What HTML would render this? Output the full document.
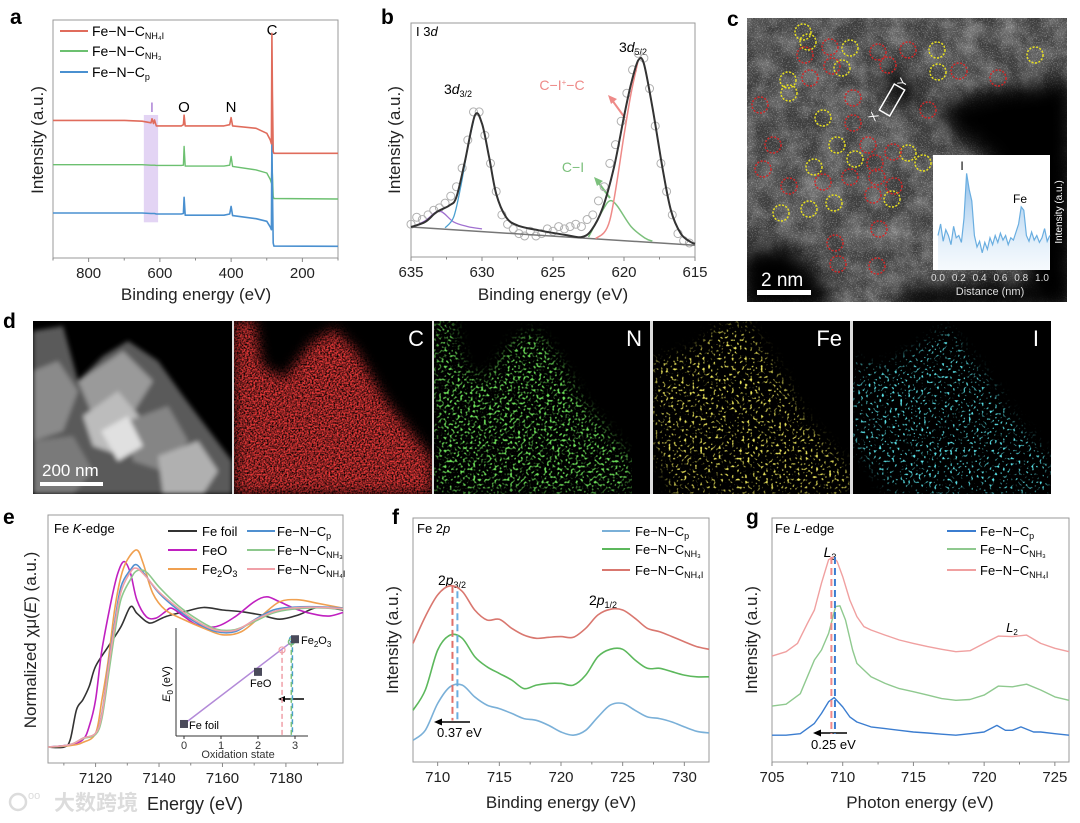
<!DOCTYPE html>
<html><head><meta charset="utf-8"><style>
html,body{margin:0;padding:0;background:#fff;}
svg{display:block;font-family:"Liberation Sans","Noto Sans CJK SC",sans-serif;}
</style></head><body>
<svg id="fig" width="1080" height="823" viewBox="0 0 1080 823" xmlns="http://www.w3.org/2000/svg">
<defs>
<filter id="blur2"><feGaussianBlur stdDeviation="2.5"/></filter>
<filter id="blur6"><feGaussianBlur stdDeviation="6"/></filter>
<filter id="blur10"><feGaussianBlur stdDeviation="10"/></filter>
<filter id="texC" x="0" y="0" width="1" height="1"><feTurbulence type="fractalNoise" baseFrequency="0.045" numOctaves="4" seed="3"/><feColorMatrix type="matrix" values="0 0 0 0 1 0 0 0 0 1 0 0 0 0 1 1.1 0 0 0 -0.35"/></filter>
<filter id="grainC" x="0" y="0" width="1" height="1"><feTurbulence type="fractalNoise" baseFrequency="0.8" numOctaves="1" seed="7"/><feColorMatrix type="matrix" values="0 0 0 0 1 0 0 0 0 1 0 0 0 0 1 5 0 0 0 -2.5"/></filter>
<filter id="spC" x="0" y="0" width="1" height="1"><feTurbulence type="fractalNoise" baseFrequency="0.6" numOctaves="2" seed="1"/><feColorMatrix type="matrix" values="0 0 0 0 0.8 0 0 0 0 0.04 0 0 0 0 0.04 2.2 0 0 0 -0.5"/></filter>
<filter id="spN" x="0" y="0" width="1" height="1"><feTurbulence type="fractalNoise" baseFrequency="0.38" numOctaves="1" seed="2"/><feColorMatrix type="matrix" values="0 0 0 0 0.15 0 0 0 0 0.75 0 0 0 0 0.1 5 0 0 0 -2.6"/></filter>
<filter id="spFe" x="0" y="0" width="1" height="1"><feTurbulence type="fractalNoise" baseFrequency="0.38" numOctaves="1" seed="4"/><feColorMatrix type="matrix" values="0 0 0 0 0.8 0 0 0 0 0.75 0 0 0 0 0.1 6 0 0 0 -3.4"/></filter>
<filter id="spI" x="0" y="0" width="1" height="1"><feTurbulence type="fractalNoise" baseFrequency="0.38" numOctaves="1" seed="9"/><feColorMatrix type="matrix" values="0 0 0 0 0.1 0 0 0 0 0.75 0 0 0 0 0.8 7 0 0 0 -4.1"/></filter>
<mask id="mC"><polygon fill="#fff" filter="url(#blur6)" points="0,0 20,0 28,45 50,58 78,22 100,8 122,30 150,78 198,138 198,173 0,173"/></mask>
<mask id="mN"><polygon fill="#fff" filter="url(#blur6)" points="0,0 18,0 30,48 52,58 80,20 100,10 120,32 148,80 198,140 198,173 0,173"/></mask>
<mask id="mFe"><polygon fill="#fff" filter="url(#blur6)" points="0,40 40,30 62,10 90,0 112,30 132,62 152,100 198,150 198,173 20,173 0,120"/></mask>
<mask id="mI"><polygon fill="#fff" filter="url(#blur6)" points="0,40 30,48 62,30 92,8 112,30 142,70 162,100 198,140 198,173 40,173 0,120"/></mask>
<linearGradient id="insetFill" x1="0" y1="0" x2="0" y2="1"><stop offset="0" stop-color="#5aa0e0" stop-opacity="0.7"/><stop offset="1" stop-color="#cfe4f6" stop-opacity="0.2"/></linearGradient>
<clipPath id="clipC"><rect x="747" y="18" width="320" height="284"/></clipPath>
</defs>

<g font-weight="bold" font-size="21" fill="#000">
<text x="10" y="24">a</text><text x="381" y="24">b</text><text x="727" y="26">c</text>
<text x="3" y="328">d</text><text x="3" y="524">e</text><text x="392" y="524">f</text><text x="746" y="524">g</text>
</g>

<g id="pa">
<rect x="53" y="20" width="285" height="238" fill="none" stroke="#999" stroke-width="1"/>
<text transform="translate(43,140) rotate(-90)" text-anchor="middle" font-size="17" fill="#222">Intensity (a.u.)</text>
<text x="196" y="300" text-anchor="middle" font-size="17" fill="#222">Binding energy (eV)</text>
<g font-size="14">
<line x1="60" y1="31" x2="88" y2="31" stroke="#e06c5c" stroke-width="2"/><text x="92" y="36">Fe−N−C<tspan font-size="9" dy="3">NH₄I</tspan></text>
<line x1="60" y1="51" x2="88" y2="51" stroke="#6cc070" stroke-width="2"/><text x="92" y="56">Fe−N−C<tspan font-size="9" dy="3">NH₃</tspan></text>
<line x1="60" y1="72" x2="88" y2="72" stroke="#4a90d0" stroke-width="2"/><text x="92" y="77">Fe−N−C<tspan font-size="9" dy="3">p</tspan></text>
</g>
<text x="272" y="35" text-anchor="middle" font-size="15">C</text>
<text x="184" y="112" text-anchor="middle" font-size="15">O</text>
<text x="231" y="112" text-anchor="middle" font-size="15">N</text>
<text x="152" y="112" text-anchor="middle" font-size="14" fill="#a070d0">I</text>
</g>

<g id="pb">
<rect x="411" y="23" width="284" height="234" fill="none" stroke="#999"/>
<text transform="translate(400,140) rotate(-90)" text-anchor="middle" font-size="17" fill="#222">Intensity (a.u.)</text>
<text x="553" y="300" text-anchor="middle" font-size="17" fill="#222">Binding energy (eV)</text>
<text x="416" y="36" font-size="13">I 3<tspan font-style="italic">d</tspan></text>
<text x="458" y="94" text-anchor="middle" font-size="14">3<tspan font-style="italic">d</tspan><tspan font-size="9" dy="3">3/2</tspan></text>
<text x="633" y="52" text-anchor="middle" font-size="14">3<tspan font-style="italic">d</tspan><tspan font-size="9" dy="3">5/2</tspan></text>
<text x="562" y="90" text-anchor="middle" font-size="14" fill="#ee8a88">C−I<tspan font-size="8" dy="-5">+</tspan><tspan dy="5">−C</tspan></text>
<text x="573" y="172" text-anchor="middle" font-size="14" fill="#7cc07c">C−I</text>
<line x1="625" y1="118" x2="612" y2="100" stroke="#ee8a88" stroke-width="2"/>
<polygon points="608,95 617,99 611,104" fill="#ee8a88"/>
<line x1="610" y1="198" x2="598" y2="182" stroke="#7cc07c" stroke-width="2"/>
<polygon points="594,177 603,181 597,186" fill="#7cc07c"/>
</g>

<g id="pc" clip-path="url(#clipC)">
<rect x="747" y="18" width="320" height="284" fill="#3e3e3e"/>
<rect x="747" y="18" width="320" height="284" filter="url(#texC)" opacity="0.55"/>
<rect x="747" y="18" width="320" height="284" filter="url(#grainC)" opacity="0.25"/>
<g fill="#050505" filter="url(#blur10)">
<polygon points="935,110 980,92 1030,85 1075,80 1075,310 1040,310 1020,250 990,160 950,130"/>
<polygon points="740,250 790,245 830,290 830,310 740,310"/>
<polygon points="900,290 1000,280 1075,290 1075,310 900,310"/>
<polygon points="880,80 900,70 920,95 900,110"/>
</g>
<g id="circles-c"></g>
<g transform="translate(892,100) rotate(30)"><rect x="-6" y="-15" width="12" height="30" fill="none" stroke="#fff" stroke-width="1.5"/></g>
<text x="875" y="122" fill="#fff" font-size="12" transform="rotate(-60 875 122)">X</text>
<text x="904" y="88" fill="#fff" font-size="12" transform="rotate(-60 904 88)">Y</text>
<rect x="757" y="290" width="54" height="5" fill="#fff"/>
<text x="761" y="286" fill="#fff" font-size="19">2 nm</text>
<rect x="933" y="155" width="117" height="115" fill="#fff"/>
<g id="insetC"></g>
<text x="962" y="170" font-size="12" text-anchor="middle">I</text>
<text x="1020" y="203" font-size="12" text-anchor="middle">Fe</text>
<text transform="translate(1062,212) rotate(-90)" text-anchor="middle" font-size="10" fill="#fff">Intensity (a.u.)</text>
<text x="990" y="295" text-anchor="middle" font-size="11" fill="#ddd">Distance (nm)</text>
</g>

<g id="pd">
<rect x="33" y="321" width="1018" height="173" fill="#ddd"/>
<g>
<svg x="33" y="321" width="199" height="173" viewBox="0 0 199 173">
<rect width="199" height="173" fill="#000"/>
<g filter="url(#blur2)">
<polygon points="0,10 30,5 45,60 70,35 95,20 125,40 150,75 199,140 199,173 0,173" fill="#5a5a5a"/>
<polygon points="0,50 25,40 45,70 30,110 0,120" fill="#8a8a8a"/>
<polygon points="45,60 90,30 120,60 95,100 60,95" fill="#9a9a9a"/>
<polygon points="50,95 85,70 110,100 90,135 60,125" fill="#bcbcbc"/>
<polygon points="95,100 135,85 155,120 130,150 100,140" fill="#858585"/>
<polygon points="125,135 165,120 185,150 170,173 130,173" fill="#b0b0b0"/>
<polygon points="0,120 40,115 60,150 40,173 0,173" fill="#7a7a7a"/>
<polygon points="68,110 95,95 110,125 85,140" fill="#e0e0e0"/>
</g>
<rect x="7" y="161" width="63" height="4" fill="#fff"/>
<text x="9" y="155" fill="#fff" font-size="17">200 nm</text>
</svg></g>
<g><svg x="234" y="321" width="198" height="173" viewBox="0 0 198 173"><rect width="198" height="173" fill="#000"/><rect width="198" height="173" filter="url(#spC)" mask="url(#mC)"/><text x="190" y="25" text-anchor="end" fill="#fff" font-size="22">C</text></svg></g>
<g><svg x="434" y="321" width="216" height="173" viewBox="0 0 216 173"><rect width="216" height="173" fill="#000"/><rect width="198" height="173" filter="url(#spN)" mask="url(#mN)"/><text x="208" y="25" text-anchor="end" fill="#fff" font-size="22">N</text></svg></g>
<g><svg x="653" y="321" width="197" height="173" viewBox="0 0 197 173"><rect width="197" height="173" fill="#000"/><rect width="198" height="173" filter="url(#spFe)" mask="url(#mFe)"/><text x="189" y="25" text-anchor="end" fill="#fff" font-size="22">Fe</text></svg></g>
<g><svg x="853" y="321" width="198" height="173" viewBox="0 0 198 173"><rect width="198" height="173" fill="#000"/><rect width="198" height="173" filter="url(#spI)" mask="url(#mI)"/><text x="186" y="25" text-anchor="end" fill="#fff" font-size="22">I</text></svg></g>
</g>

<g id="pe">
<rect x="48" y="515" width="295" height="248" fill="none" stroke="#999"/>
<text transform="translate(36,640) rotate(-90)" text-anchor="middle" font-size="17" fill="#222">Normalized χμ(<tspan font-style="italic">E</tspan>) (a.u.)</text>
<text x="147" y="810" font-size="18" fill="#222">Energy (eV)</text>
<g fill="#dcdcdc"><circle cx="18" cy="802" r="8" fill="none" stroke="#dcdcdc" stroke-width="2.5"/><text x="28" y="799" font-size="11">oo</text><text x="54" y="810" font-size="21" font-weight="bold">大数跨境</text></g>
<text x="54" y="533" font-size="13">Fe <tspan font-style="italic">K</tspan>-edge</text>
<g font-size="13">
<line x1="168" y1="531" x2="197" y2="531" stroke="#333" stroke-width="2"/><text x="202" y="536">Fe foil</text>
<line x1="168" y1="550" x2="197" y2="550" stroke="#c020c0" stroke-width="2"/><text x="202" y="555">FeO</text>
<line x1="168" y1="569" x2="197" y2="569" stroke="#f0a050" stroke-width="2"/><text x="202" y="574">Fe<tspan font-size="9" dy="3">2</tspan><tspan dy="-3">O</tspan><tspan font-size="9" dy="3">3</tspan></text>
<line x1="247" y1="531" x2="275" y2="531" stroke="#5090d0" stroke-width="2"/><text x="277" y="536">Fe−N−C<tspan font-size="9" dy="3">p</tspan></text>
<line x1="247" y1="550" x2="275" y2="550" stroke="#8dc88d" stroke-width="2"/><text x="277" y="555">Fe−N−C<tspan font-size="9" dy="3">NH₃</tspan></text>
<line x1="247" y1="569" x2="275" y2="569" stroke="#f0a0a8" stroke-width="2"/><text x="277" y="574">Fe−N−C<tspan font-size="9" dy="3">NH₄I</tspan></text>
</g>
<text transform="translate(170,684) rotate(-90)" text-anchor="middle" font-size="11"><tspan font-style="italic">E</tspan><tspan font-size="8" dy="3">0</tspan><tspan dy="-3"> (eV)</tspan></text>
<text x="238" y="758" text-anchor="middle" font-size="11" fill="#333">Oxidation state</text>
<text x="189" y="729" font-size="11">Fe foil</text>
<text x="250" y="687" font-size="11">FeO</text>
<text x="301" y="644" font-size="11">Fe<tspan font-size="8" dy="3">2</tspan><tspan dy="-3">O</tspan><tspan font-size="8" dy="3">3</tspan></text>
<line x1="304" y1="699" x2="284" y2="699" stroke="#000" stroke-width="1.5"/>
<polygon points="278,699 285,696 285,702" fill="#000"/>
</g>

<g id="pf">
<rect x="413" y="518" width="296" height="244" fill="none" stroke="#999"/>
<text transform="translate(398,640) rotate(-90)" text-anchor="middle" font-size="17" fill="#222">Intensity (a.u.)</text>
<text x="561" y="808" text-anchor="middle" font-size="17" fill="#222">Binding energy (eV)</text>
<text x="417" y="533" font-size="13">Fe 2<tspan font-style="italic">p</tspan></text>
<g font-size="13">
<line x1="602" y1="531" x2="630" y2="531" stroke="#7ab0d8" stroke-width="2"/><text x="635" y="536">Fe−N−C<tspan font-size="9" dy="3">p</tspan></text>
<line x1="602" y1="549" x2="630" y2="549" stroke="#5cb85c" stroke-width="2"/><text x="635" y="554">Fe−N−C<tspan font-size="9" dy="3">NH₃</tspan></text>
<line x1="602" y1="570" x2="630" y2="570" stroke="#d9776f" stroke-width="2"/><text x="635" y="575">Fe−N−C<tspan font-size="9" dy="3">NH₄I</tspan></text>
</g>
<text x="452" y="585" text-anchor="middle" font-size="14">2<tspan font-style="italic">p</tspan><tspan font-size="9" dy="3">3/2</tspan></text>
<text x="603" y="605" text-anchor="middle" font-size="14">2<tspan font-style="italic">p</tspan><tspan font-size="9" dy="3">1/2</tspan></text>
<line x1="470" y1="722" x2="441" y2="722" stroke="#000" stroke-width="1.5"/>
<polygon points="434,722 442,718.5 442,725.5" fill="#000"/>
<text x="437" y="737" font-size="13">0.37 eV</text>
</g>

<g id="pg">
<rect x="772" y="518" width="297" height="244" fill="none" stroke="#999"/>
<text transform="translate(757,640) rotate(-90)" text-anchor="middle" font-size="17" fill="#222">Intensity (a.u.)</text>
<text x="920" y="808" text-anchor="middle" font-size="17" fill="#222">Photon energy (eV)</text>
<text x="775" y="533" font-size="13">Fe <tspan font-style="italic">L</tspan>-edge</text>
<g font-size="13">
<line x1="947" y1="531" x2="976" y2="531" stroke="#3b7dd0" stroke-width="2"/><text x="980" y="536">Fe−N−C<tspan font-size="9" dy="3">p</tspan></text>
<line x1="947" y1="549" x2="976" y2="549" stroke="#8fc98f" stroke-width="2"/><text x="980" y="554">Fe−N−C<tspan font-size="9" dy="3">NH₃</tspan></text>
<line x1="947" y1="570" x2="976" y2="570" stroke="#f0a0a0" stroke-width="2"/><text x="980" y="575">Fe−N−C<tspan font-size="9" dy="3">NH₄I</tspan></text>
</g>
<text x="830" y="557" text-anchor="middle" font-size="14" font-style="italic">L<tspan font-size="9" dy="3" font-style="normal">3</tspan></text>
<text x="1012" y="632" text-anchor="middle" font-size="13" font-style="italic">L<tspan font-size="8" dy="3" font-style="normal">2</tspan></text>
<line x1="847" y1="733" x2="820" y2="733" stroke="#000" stroke-width="1.5"/>
<polygon points="813,733 821,729.5 821,736.5" fill="#000"/>
<text x="811" y="749" font-size="13">0.25 eV</text>
</g>
</svg>

<script>
// ---------- data ----------
const aEnergy = [900,700,650,625,622,618,615,610,540,534,532,529,420,404,400,396,330,300,290,287,285.5,284,282,280,100];
const aRed   = [57.8,57.8,57.5,56.8,58.5,56.5,58,55.5,55.5,56,60,55.5,55.5,56,59,55.5,54.5,52.4,49.6,48,94.4,70,44.8,44,44];
const aGreen = [39.2,39.2,39.2,39,39,39,39,38.9,38.9,39,46.9,38.6,38.6,39,42.7,38.5,37,35.7,33,31.5,40,35,25.9,25,24.8];
const aBlue  = [18.9,18.9,18.9,18.7,18.7,18.7,18.7,18.5,18.5,18.7,25.5,18,18,18.5,21.7,17.8,16.5,15.4,13,11.9,49.6,30,6.3,5,4.9];
const aTicks = [800,600,400,200];
const aMinor = [900,700,500,300,100];
const aIodineBand = [645,605];

const bFitE = [635,634,633.2,632.3,631.8,631.2,630.5,630,629.5,629,628.3,627.5,626,624,623,622.3,621.5,620.7,620,619.5,619,618.6,618,617.3,616.7,616,615.3,615];
const bFitI = [12.8,15,19.2,22,25.6,41,60.5,57,42.7,27,17,13.5,11.4,9.3,8.5,11.4,21,38.5,60,74,84,82.6,64,38.5,20,10,6.4,5.7];
const bBaseE = [635,615];
const bBaseI = [12.8,5];
const bPurpleE = [634.8,634,633,632,631,630];
const bPurpleI = [13,15.5,19.6,15,13,12];
const bBlueE = [632.6,632,631.5,631,630.6];
const bBlueI = [12.5,17,30,47,58];
const bPinkE = [622,621,620,619.5,619];
const bPinkI = [7.8,15.7,52,70,84];
const bGreenE = [622.5,621.5,621,620.5,619.5,618.5,618];
const bGreenI = [8.5,20,24,22,13,8,6.8];
const bRawE = [635,634.6,634.2,633.8,633.4,633,632.6,632.2,631.8,631.4,631,630.6,630.2,629.8,629.4,629,628.6,628.2,627.8,627.4,627,626.6,626.2,625.8,625.4,625,624.6,624.2,623.8,623.4,623,622.6,622.2,621.8,621.4,621,620.6,620.2,619.8,619.4,619,618.6,618.2,617.8,617.4,617,616.6,616.2,615.8,615.4];
const bRawI = [14,17,16,18,20,21,23,26,30,38,50,62,62,52,40,28,18,14,12,10,9,11,9,10,12,11,13,12,13,14,13,16,18,24,30,40,48,58,70,80,87,85,72,56,40,28,18,10,7,6];
const bTicks = [635,630,625,620,615];
const bMinor = [632.5,627.5,622.5,617.5];

const cDist = [0,0.025,0.05,0.075,0.1,0.125,0.15,0.175,0.2,0.225,0.25,0.275,0.3,0.325,0.35,0.375,0.4,0.425,0.45,0.475,0.5,0.525,0.55,0.575,0.6,0.625,0.65,0.675,0.7,0.725,0.75,0.775,0.8,0.825,0.85,0.875,0.9,0.925,0.95,0.975,1.0,1.025,1.05,1.075];
const cInt  = [30,40,25,35,30,22,38,28,30,24,45,84,70,60,30,20,25,15,24,18,28,22,30,24,32,26,30,22,28,26,33,40,55,52,30,25,33,26,30,24,28,36,25,30];
const cTicks = [0,0.2,0.4,0.6,0.8,1.0];
const cYellowX = [803,808,850,842,788,789,823,837,855,908,923,814,834,809,781,892,937,938,1035];
const cYellowY = [32,42,48,68,80,93,118,145,159,153,163,167,203,209,213,199,50,72,55];
const cRedX = [830,805,832,810,878,888,908,959,998,760,853,928,853,773,868,893,763,789,823,850,875,877,894,873,879,835,838,877];
const cRedY = [47,55,66,78,52,65,50,71,78,105,98,110,123,145,145,152,169,186,182,177,163,177,186,195,229,243,264,266];

const eFoilE = [7105,7110,7112,7114,7116,7118,7120,7124,7128,7131,7133,7136,7138,7142,7148,7154,7160,7166,7172,7178,7184,7190,7198];
const eFoilI = [6.4,6.4,9.4,21.5,25.5,30.9,39,47,55,63,60.4,57,56.6,59,61,62.7,61.7,61,59.7,58,59.7,62.7,61.7];
const eFeOE = [7105,7112,7116,7118,7120,7122,7125,7127,7129,7131,7133,7136,7139,7142,7144,7148,7152,7158,7164,7170,7174,7178,7184,7190,7194,7198];
const eFeOI = [6.4,7.4,9.4,14.8,25.5,45.6,65.8,76.5,81.2,76.5,65.8,59,58.4,61,62.4,59,55.7,55,59,65,67,65,61.7,59.7,59.3,60.7];
const eFe2O3E = [7105,7112,7116,7120,7122,7124,7126,7128,7130,7133,7135,7138,7142,7148,7154,7160,7166,7172,7178,7184,7190,7198];
const eFe2O3I = [6.4,7,8.3,12,25.5,41.6,61.7,75.2,81.9,85.9,80.5,68.5,61.7,57.7,54.4,51.7,53,59,65,65.8,64.4,62.4];
const eSampE = [7105,7112,7116,7120,7122,7124,7126,7128,7131,7133,7136,7140,7146,7152,7158,7164,7170,7176,7182,7190,7198];
const eCpI   = [6.4,7.4,10,12,20,39,56.4,71.1,77.9,79.9,75.2,68.5,61.7,56.4,53,53,57.7,61.7,62.8,63,62.4];
const eNH3I  = [6.4,7.4,9.8,11.5,18,35,52,66,74,77.5,77,71,63.5,58,54,53.8,57,60.5,62,62.6,62];
const eNH4II = [6.4,7.4,10,12,19.5,38,55,69,77,78.5,75,69,62.5,57,53.5,53.5,57.5,61,62.5,62.8,62.2];
const eTicks = [7120,7140,7160,7180];
const eMinor = [7110,7130,7150,7170,7190];
const eOxRef = [0,2,3];
const eE0Ref = [7112.06,7121.8,7127.9];
const eOxSamp = [2.93,2.9,2.65];
const eE0Samp = [7127.9,7127.4,7125.9];
const eInsetTicks = [0,1,2,3];

const fE = [708,709,710,711,712,713,714,715,716,717,718,719,720,721,722,723,724,725,726,727,728,729,730,731,732];
const fRed   = [48.6,59.6,68.5,72.2,69.9,62.3,58.2,58.5,54.8,52,50.7,51.1,51.4,51.1,54.8,60.3,62.6,62.3,58.9,54.8,53.4,51.4,49.3,47.3,46.2];
const fGreen = [21.2,29.5,45.9,52,50.7,43.2,39,36.3,33.6,30.1,31.5,32.2,32.2,31.5,35.6,43.2,46.2,46.2,41.8,38.4,38.4,37,35.6,34.9,34.9];
const fBlue  = [8.9,13,24,30.8,31.5,26.7,23.3,21.9,19.9,17.8,17.1,15,12.3,11,13,18.5,23.3,24,21.2,18.5,17.8,16.4,14.4,12.6,11.9];
const fPeakRed = 711.2, fPeakBlue = 711.6;
const fTicks = [710,715,720,725,730];
const fMinor = [712.5,717.5,722.5,727.5];

const gRedE = [705,706,706.8,707.5,708,708.5,709,709.3,709.6,710,710.5,711,711.5,712,713,714,715,716,717,718,719,720,721,722,723,724,725,726];
const gRed  = [43.4,45.2,48.6,56.8,62.3,73.3,82.9,84,82.2,76,66.4,59.6,55.5,54.1,52,50,48.6,47.3,46.2,45.2,45.6,48.6,51.6,51.4,52,48.6,46.6,45.2];
const gGreenE = [705,706,707,708,708.5,709,709.5,709.8,710.2,710.7,711,712,713,714,715,716,717,718,719,720,721,722,723,724,725,726];
const gGreen  = [22.9,23.7,28,41.8,45.9,52.7,63.7,64,58.2,45.9,40.4,34.9,32.2,30.1,28.8,27.4,26,25.3,25.6,27.4,31.1,30.8,31.9,29.5,26.7,25.3];
const gBlueE = [705,706,707,708,708.5,709,709.4,710,710.5,711,712,713,714,715,716,717,718,719,720,720.9,721.5,722,722.6,723.5,724,725,726];
const gBlue  = [11,11,11.6,15.8,19.9,24.7,26.4,22.6,18.5,16.4,14.4,13.7,13,12.3,11.9,11.4,11,11.6,12.3,15,13,13,14.4,12.3,12.3,11.6,11];
const gPeakRed = 709.2, gPeakBlue = 709.45;
const gTicks = [705,710,715,720,725];
const gMinor = [707.5,712.5,717.5,722.5];

// ---------- helpers ----------
const NS = 'http://www.w3.org/2000/svg';
const svg = document.getElementById('fig');
function el(tag, attrs, parent, name) {
  const e = document.createElementNS(NS, tag);
  for (const k in attrs) e.setAttribute(k, attrs[k]);
  
  
  (parent || svg).appendChild(e);
  return e;
}
function lin(d0, d1, r0, r1) { return v => r0 + (v - d0) * (r1 - r0) / (d1 - d0); }
function polyPath(xs, ys, sx, sy) {
  return xs.map((x, i) => (i ? 'L' : 'M') + sx(x).toFixed(1) + ',' + sy(ys[i]).toFixed(1)).join('');
}
function smoothPath(xs, ys, sx, sy) {
  const p = xs.map((x, i) => [sx(x), sy(ys[i])]);
  let d = 'M' + p[0][0].toFixed(1) + ',' + p[0][1].toFixed(1);
  for (let i = 0; i < p.length - 1; i++) {
    const p0 = p[i - 1] || p[i], p1 = p[i], p2 = p[i + 1], p3 = p[i + 2] || p2;
    const c1x = p1[0] + (p2[0] - p0[0]) / 6, c1y = p1[1] + (p2[1] - p0[1]) / 6;
    const c2x = p2[0] - (p3[0] - p1[0]) / 6, c2y = p2[1] - (p3[1] - p1[1]) / 6;
    d += 'C' + c1x.toFixed(1) + ',' + c1y.toFixed(1) + ' ' + c2x.toFixed(1) + ',' + c2y.toFixed(1) + ' ' + p2[0].toFixed(1) + ',' + p2[1].toFixed(1);
  }
  return d;
}
function xAxis(parent, sx, yBase, ticks, minor, fmt, fs, color, prefix) {
  ticks.forEach(t => {
    el('line', {x1: sx(t), x2: sx(t), y1: yBase, y2: yBase + 4, stroke: color || '#888'}, parent, prefix + '-tick');
    const tx = el('text', {x: sx(t), y: yBase + fs + 5, 'text-anchor': 'middle', 'font-size': fs, fill: color || '#222'}, parent, prefix + '-tick-label');
    tx.textContent = fmt(t);
  });
  minor.forEach(t => {
    el('line', {x1: sx(t), x2: sx(t), y1: yBase, y2: yBase + 2.5, stroke: color || '#888'}, parent, prefix + '-minor-tick');
  });
}
function curve(parent, xs, ys, sx, sy, color, w, name, smooth) {
  return el('path', {d: (smooth ? smoothPath : polyPath)(xs, ys, sx, sy), fill: 'none', stroke: color, 'stroke-width': w, 'stroke-linejoin': 'round'}, parent, name);
}

{
  const g = document.getElementById('pa');
  const sx = lin(900, 100, 53, 338), sy = lin(0, 100, 258, 20);
  el('rect', {x: sx(aIodineBand[0]), y: sy(60.1), width: sx(aIodineBand[1]) - sx(aIodineBand[0]), height: sy(15) - sy(60.1), fill: '#d9c6f0', opacity: 0.75}, g, 'iodine-highlight-band');
  curve(g, aEnergy, aGreen, sx, sy, '#6cc070', 1.4, 'series-fe-n-c-nh3', false);
  curve(g, aEnergy, aBlue, sx, sy, '#4a90d0', 1.6, 'series-fe-n-c-p', false);
  curve(g, aEnergy, aRed, sx, sy, '#e06c5c', 1.6, 'series-fe-n-c-nh4i', false);
  xAxis(g, sx, 258, aTicks, aMinor, t => t, 15, null, 'x-axis-a');
}
{
  const g = document.getElementById('pb');
  const sx = lin(635, 615, 411, 695), sy = lin(0, 100, 257, 23);
  bRawE.forEach((e, i) => {
    el('circle', {cx: sx(e), cy: sy(bRawI[i]), r: 4, fill: 'none', stroke: '#b0b0b0', 'stroke-width': 1}, g, 'raw-data-point');
  });
  curve(g, bBaseE, bBaseI, sx, sy, '#777', 1.5, 'background-line', false);
  curve(g, bPurpleE, bPurpleI, sx, sy, '#a070d0', 1.3, 'component-purple', true);
  curve(g, bBlueE, bBlueI, sx, sy, '#4aa0d0', 1.3, 'component-blue', true);
  curve(g, bGreenE, bGreenI, sx, sy, '#7cc07c', 1.5, 'component-c-i', true);
  curve(g, bPinkE, bPinkI, sx, sy, '#ee8a88', 1.5, 'component-c-iplus-c', true);
  curve(g, bFitE, bFitI, sx, sy, '#333', 2, 'envelope-fit', true);
  xAxis(g, sx, 257, bTicks, bMinor, t => t, 15, null, 'x-axis-b');
}
{
  const cg = document.getElementById('circles-c');
  cYellowX.forEach((x, i) => {
    el('circle', {cx: x, cy: cYellowY[i], r: 8, fill: 'none', stroke: '#e8e020', 'stroke-width': 1.5, 'stroke-dasharray': '2 1.5'}, cg, 'yellow-marker-circle');
  });
  cRedX.forEach((x, i) => {
    el('circle', {cx: x, cy: cRedY[i], r: 8, fill: 'none', stroke: '#d02828', 'stroke-width': 1.5, 'stroke-dasharray': '2 1.5'}, cg, 'red-marker-circle');
  });
  const g = document.getElementById('insetC');
  const sx = lin(0, 1, 938, 1042), sy = lin(0, 100, 270, 155);
  const d = polyPath(cDist, cInt, sx, sy);
  el('path', {d: d + 'L' + sx(cDist[cDist.length - 1]) + ',270L' + sx(cDist[0]) + ',270Z', fill: 'url(#insetFill)', stroke: 'none'}, g, 'inset-scan-fill');
  el('path', {d: d, fill: 'none', stroke: '#6aaee0', 'stroke-width': 1.2}, g, 'inset-scan-line');
  cTicks.forEach(t => {
    const tx = el('text', {x: sx(t), y: 281, 'text-anchor': 'middle', 'font-size': 10, fill: '#ddd'}, g, 'inset-c-tick-label');
    tx.textContent = t.toFixed(1);
  });
}
{
  const g = document.getElementById('pe');
  const sx = lin(7105, 7198, 48, 343), sy = lin(0, 100, 763, 515);
  curve(g, eFoilE, eFoilI, sx, sy, '#333', 1.6, 'series-fe-foil', true);
  curve(g, eFeOE, eFeOI, sx, sy, '#c020c0', 1.6, 'series-feo', true);
  curve(g, eFe2O3E, eFe2O3I, sx, sy, '#f0a050', 1.6, 'series-fe2o3', true);
  curve(g, eSampE, eCpI, sx, sy, '#5090d0', 1.6, 'series-fe-n-c-p', true);
  curve(g, eSampE, eNH3I, sx, sy, '#8dc88d', 1.6, 'series-fe-n-c-nh3', true);
  curve(g, eSampE, eNH4II, sx, sy, '#f0a0a8', 1.6, 'series-fe-n-c-nh4i', true);
  xAxis(g, sx, 763, eTicks, eMinor, t => t, 15, null, 'x-axis-e');
  const ix = lin(0, 3, 184, 295), iy = lin(7110, 7130, 735, 628);
  el('line', {x1: 176, y1: 628, x2: 176, y2: 736, stroke: '#333'}, g, 'inset-e-y-axis');
  el('line', {x1: 176, y1: 736, x2: 308, y2: 736, stroke: '#333'}, g, 'inset-e-x-axis');
  eInsetTicks.forEach(t => {
    el('line', {x1: ix(t), x2: ix(t), y1: 736, y2: 739, stroke: '#333'}, g, 'inset-e-tick');
    const tx = el('text', {x: ix(t), y: 749, 'text-anchor': 'middle', 'font-size': 11, fill: '#333'}, g, 'inset-e-tick-label');
    tx.textContent = t;
  });
  curve(g, [eOxRef[0], eOxRef[2]], [eE0Ref[0], eE0Ref[2]], ix, iy, '#b38ad8', 1.5, 'inset-fit-line', false);
  const sc = ['#4aa0c8', '#7cc07c', '#f0a0a8'];
  eOxSamp.forEach((o, i) => {
    el('line', {x1: ix(o), x2: ix(o), y1: iy(eE0Samp[i]), y2: 736, stroke: sc[i], 'stroke-width': 1.5, 'stroke-dasharray': '5 3'}, g, 'inset-sample-dash');
    el('circle', {cx: ix(o), cy: iy(eE0Samp[i]), r: 3, fill: 'none', stroke: sc[i], 'stroke-width': 1.2}, g, 'inset-sample-point');
  });
  eOxRef.forEach((o, i) => {
    el('rect', {x: ix(o) - 4, y: iy(eE0Ref[i]) - 4, width: 8, height: 8, fill: '#4a4a5a'}, g, 'inset-reference-point');
  });
}
{
  const g = document.getElementById('pf');
  const sx = lin(708, 732, 413, 709), sy = lin(0, 100, 762, 518);
  curve(g, fE, fRed, sx, sy, '#d9776f', 1.6, 'series-fe-n-c-nh4i', true);
  curve(g, fE, fGreen, sx, sy, '#5cb85c', 1.6, 'series-fe-n-c-nh3', true);
  curve(g, fE, fBlue, sx, sy, '#7ab0d8', 1.6, 'series-fe-n-c-p', true);
  el('line', {x1: sx(fPeakRed), x2: sx(fPeakRed), y1: sy(72.2), y2: sy(17), stroke: '#e0706a', 'stroke-width': 2, 'stroke-dasharray': '7 4'}, g, 'peak-marker-nh4i');
  el('line', {x1: sx(fPeakBlue), x2: sx(fPeakBlue), y1: sy(70), y2: sy(17), stroke: '#6aaee0', 'stroke-width': 2, 'stroke-dasharray': '7 4'}, g, 'peak-marker-p');
  xAxis(g, sx, 762, fTicks, fMinor, t => t, 15, null, 'x-axis-f');
}
{
  const g = document.getElementById('pg');
  const sx = lin(705, 726, 772, 1069), sy = lin(0, 100, 762, 518);
  curve(g, gRedE, gRed, sx, sy, '#f0a0a0', 1.4, 'series-fe-n-c-nh4i', false);
  curve(g, gGreenE, gGreen, sx, sy, '#8fc98f', 1.4, 'series-fe-n-c-nh3', false);
  curve(g, gBlueE, gBlue, sx, sy, '#3b7dd0', 1.4, 'series-fe-n-c-p', false);
  el('line', {x1: sx(gPeakRed), x2: sx(gPeakRed), y1: sy(84), y2: sy(11.6), stroke: '#f08a8a', 'stroke-width': 2, 'stroke-dasharray': '7 4'}, g, 'peak-marker-nh4i');
  el('line', {x1: sx(gPeakBlue), x2: sx(gPeakBlue), y1: sy(84), y2: sy(11.6), stroke: '#3b7dd0', 'stroke-width': 2, 'stroke-dasharray': '7 4'}, g, 'peak-marker-p');
  xAxis(g, sx, 762, gTicks, gMinor, t => t, 15, null, 'x-axis-g');
}
</script>
</body></html>
